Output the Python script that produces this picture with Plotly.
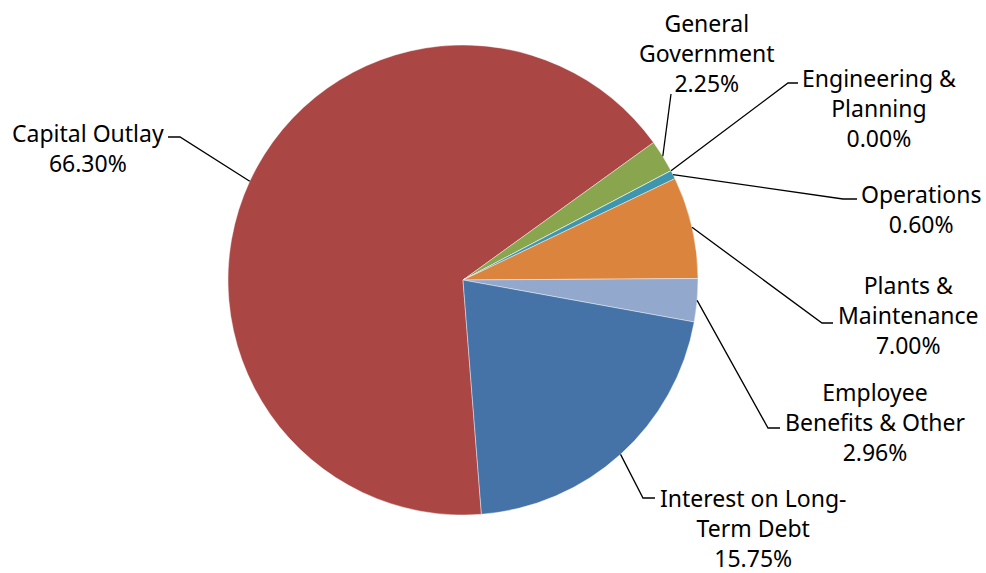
import math
import plotly.graph_objects as go

# ---- data ----
categories = ["Capital Outlay", "General<br>Government", "Engineering &<br>Planning",
              "Operations", "Plants &<br>Maintenance", "Employee<br>Benefits & Other",
              "Interest on Long-<br>Term Debt"]
label_pct = [66.30, 2.25, 0.00, 0.60, 7.00, 2.96, 15.75]          # percentages printed on labels
slice_share = [66.30, 2.25, 0.00, 0.60, 7.00, 2.96, 20.89]        # slice sizes as drawn in the picture
colors = ["#AA4643", "#89A54E", "#80699B", "#3D96AE", "#DB843D", "#92A8CD", "#4572A7"]

# ---- layout constants ----
W, H = 986, 573
CX, CY, R = 463, 280, 235
ROT = 175.5

label_pos = [(88, 148), (707, 53), (879, 108), (921, 209), (908, 315), (875, 422), (753, 528)]
leader_pts = [[(180, 137), (168, 137)], [(671, 94)], [(788, 83), (798, 83)],
              [(843, 199), (857, 199)], [(822, 323), (833, 323)],
              [(768, 428), (780, 428)], [(643, 498), (655, 498)]]


def px(x, y):
    return x / W, 1 - y / H


fig = go.Figure(go.Pie(
    labels=[c.replace("<br>", " ") for c in categories],
    values=slice_share,
    sort=False,
    direction="clockwise",
    rotation=ROT,
    marker=dict(colors=colors, line=dict(color="rgba(255,255,255,0.6)", width=0.7)),
    textinfo="none",
    hoverinfo="label+percent",
    showlegend=False,
    domain=dict(x=[(CX - R) / W, (CX + R) / W], y=[1 - (CY + R) / H, 1 - (CY - R) / H]),
))

total = sum(slice_share)
cum = 0.0
shapes = []
annotations = []
for i, cat in enumerate(categories):
    mid = ROT + 360 * (cum + slice_share[i] / 2) / total
    cum += slice_share[i]
    a = math.radians(mid)
    ex, ey = CX + R * math.sin(a), CY - R * math.cos(a)
    pts = [(ex, ey)] + leader_pts[i]
    path = ""
    for j, (x, y) in enumerate(pts):
        xp, yp = px(x, y)
        path += ("M " if j == 0 else " L ") + f"{xp:.5f} {yp:.5f}"
    shapes.append(dict(type="path", path=path, xref="paper", yref="paper",
                       line=dict(color="black", width=1.3)))
    lx, ly = px(*label_pos[i])
    annotations.append(dict(x=lx, y=ly, xref="paper", yref="paper",
                            text=f"{cat}<br>{label_pct[i]:.2f}%", showarrow=False,
                            xanchor="center", yanchor="middle", align="center",
                            font=dict(family="Noto Sans", size=23, color="black")))

fig.update_layout(width=W, height=H, margin=dict(l=0, r=0, t=0, b=0),
                  paper_bgcolor="white", plot_bgcolor="white",
                  shapes=shapes, annotations=annotations)
fig.write_html("out.html", config={"displayModeBar": False},
               post_script="document.body.style.margin='0';document.body.style.overflow='hidden';")
